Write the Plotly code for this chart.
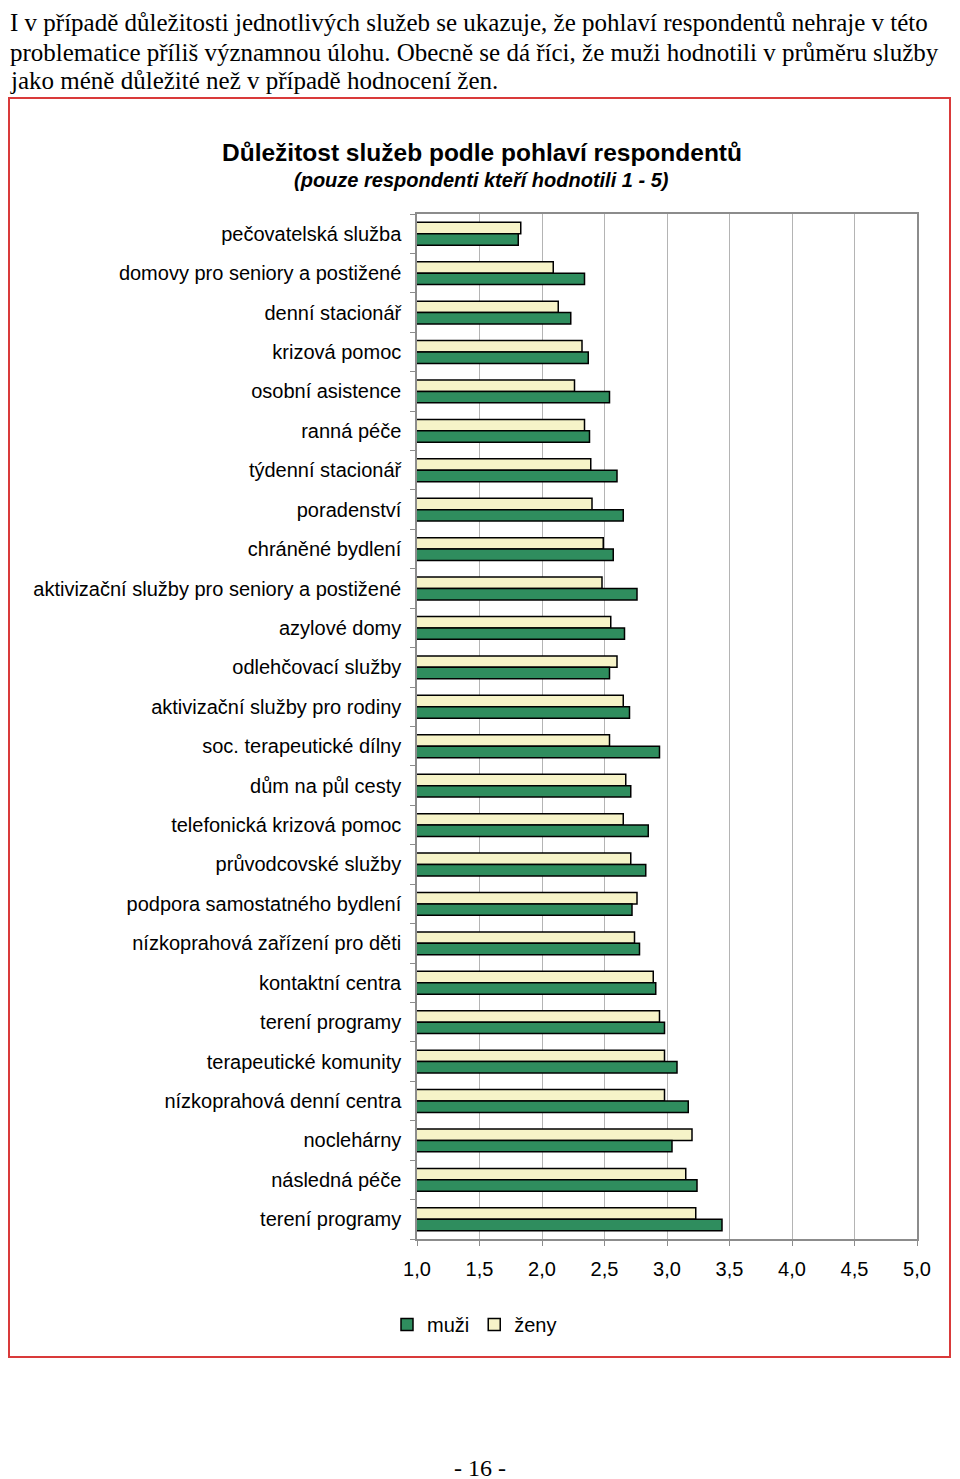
import plotly.graph_objects as go

categories = [
    "pečovatelská služba",
    "domovy pro seniory a postižené",
    "denní stacionář",
    "krizová pomoc",
    "osobní asistence",
    "ranná péče",
    "týdenní stacionář",
    "poradenství",
    "chráněné bydlení",
    "aktivizační služby pro seniory a postižené",
    "azylové domy",
    "odlehčovací služby",
    "aktivizační služby pro rodiny",
    "soc. terapeutické dílny",
    "dům na půl cesty",
    "telefonická krizová pomoc",
    "průvodcovské služby",
    "podpora samostatného bydlení",
    "nízkoprahová zařízení pro děti",
    "kontaktní centra",
    "terení programy",
    "terapeutické komunity",
    "nízkoprahová denní centra",
    "noclehárny",
    "následná péče",
    "terení programy",
]

muzi = [1.81, 2.34, 2.23, 2.37, 2.54, 2.38, 2.60, 2.65, 2.57, 2.76, 2.66, 2.54, 2.70,
        2.94, 2.71, 2.85, 2.83, 2.72, 2.78, 2.91, 2.98, 3.08, 3.17, 3.04, 3.24, 3.44]
zeny = [1.83, 2.09, 2.13, 2.32, 2.26, 2.34, 2.39, 2.40, 2.49, 2.48, 2.55, 2.60, 2.65,
        2.54, 2.67, 2.65, 2.71, 2.76, 2.74, 2.89, 2.94, 2.98, 2.98, 3.20, 3.15, 3.23]

x_ticks = [1.0, 1.5, 2.0, 2.5, 3.0, 3.5, 4.0, 4.5, 5.0]

title = "Důležitost služeb podle pohlaví respondentů"
subtitle = "(pouze respondenti kteří hodnotili 1 - 5)"
paragraph = [
    "I v případě důležitosti jednotlivých služeb se ukazuje, že pohlaví respondentů nehraje v této",
    "problematice příliš významnou úlohu. Obecně se dá říci, že muži hodnotili v průměru služby",
    "jako méně důležité než v případě hodnocení žen.",
]
page_no = "- 16 -"

W, H = 960, 1479
OFF = 8  # page body margin of the browser


def X(x):
    return (x - OFF) / W


def Y(y):
    return 1 - (y - OFF) / H


pos = list(range(len(categories)))

fig = go.Figure()
fig.add_trace(go.Bar(
    y=pos, x=zeny, orientation="h", name="ženy",
    marker=dict(color="#f6f3c8", line=dict(color="#000000", width=1.5)),
    legendrank=2,
))
fig.add_trace(go.Bar(
    y=pos, x=muzi, orientation="h", name="muži",
    marker=dict(color="#2f8d5e", line=dict(color="#000000", width=1.5)),
    legendrank=1,
))

SANS = "Liberation Sans, Arial, sans-serif"
SERIF = "Liberation Serif, Times New Roman, serif"

fig.update_layout(
    width=W, height=H,
    margin=dict(l=0, r=0, t=0, b=0, autoexpand=False),
    paper_bgcolor="white", plot_bgcolor="white",
    barmode="group", bargap=0.42, bargroupgap=0.0,
    separators=", ",
    font=dict(family=SANS, size=20, color="#000000"),
    xaxis=dict(
        domain=[X(417), X(917)], range=[1, 5], automargin=False,
        tickvals=x_ticks, tickformat=".1f",
        showgrid=True, gridcolor="#b4b4b4", gridwidth=1,
        showline=True, linecolor="#8c8c8c", linewidth=1.5, mirror=True,
        ticks="outside", ticklen=5, tickcolor="#8c8c8c",
        ticklabelstandoff=6, zeroline=False,
        tickfont=dict(size=20),
    ),
    yaxis=dict(
        domain=[Y(1239), Y(214)], range=[25.5, -0.5], automargin=False,
        tickvals=pos, ticktext=categories, ticks="",
        showgrid=False, zeroline=False,
        showline=True, linecolor="#8c8c8c", linewidth=1.5, mirror=True,
        ticklabelstandoff=10,
        minor=dict(tickvals=[i - 0.5 for i in range(len(categories) + 1)],
                   ticks="outside", ticklen=5, tickcolor="#8c8c8c", showgrid=False),
        tickfont=dict(size=20),
    ),
    showlegend=True,
    legend=dict(orientation="h", x=X(387), y=Y(1305), xanchor="left", yanchor="top",
                font=dict(size=20), itemwidth=30,
                bgcolor="rgba(0,0,0,0)", traceorder="normal"),
)

# red frame
fig.add_shape(type="rect", xref="paper", yref="paper",
              x0=1 / W, x1=X(950), y0=Y(1357), y1=Y(98),
              line=dict(color="#d93a3a", width=2), fillcolor="rgba(0,0,0,0)")

# chart title
fig.add_annotation(text="<b>" + title + "</b>", xref="paper", yref="paper",
                   x=X(482), y=Y(152), xanchor="center", yanchor="middle",
                   showarrow=False, font=dict(size=24.5, family=SANS))
fig.add_annotation(text="<b><i>" + subtitle + "</i></b>", xref="paper", yref="paper",
                   x=X(481), y=Y(180), xanchor="center", yanchor="middle",
                   showarrow=False, font=dict(size=20, family=SANS))

# paragraph text
for i, yy in enumerate([22, 52, 81]):
    fig.add_annotation(text=paragraph[i], xref="paper", yref="paper",
                       x=0, y=Y(yy), xanchor="left", yanchor="middle",
                       showarrow=False, font=dict(size=25, family=SERIF))

fig.add_annotation(text=page_no, xref="paper", yref="paper",
                   x=X(480), y=Y(1468), xanchor="center", yanchor="middle",
                   showarrow=False, font=dict(size=24, family=SERIF))

fig.write_html("out.html")
